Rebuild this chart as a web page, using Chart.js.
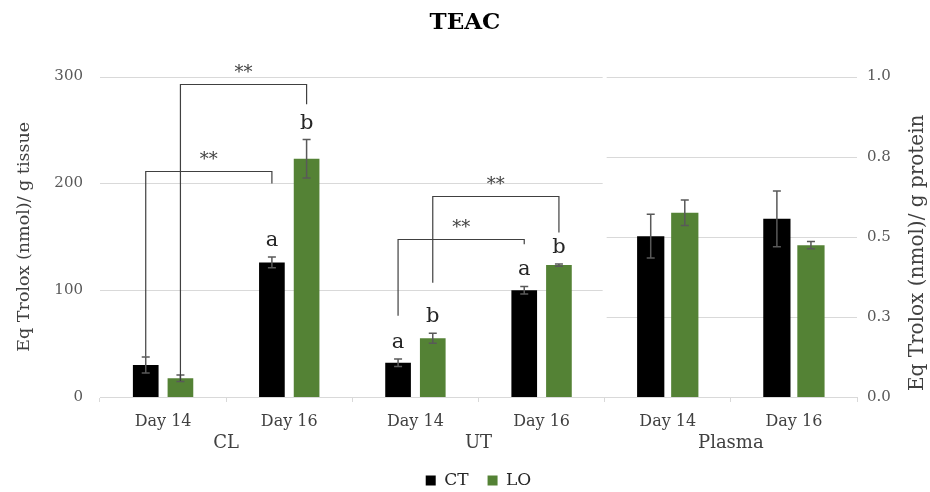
<!DOCTYPE html>
<html><head><meta charset="utf-8">
<script src="https://cdn.jsdelivr.net/npm/chart.js@4.4.1/dist/chart.umd.min.js"></script>
<style>html,body{margin:0;padding:0;background:#fff}#wrap{width:930px;height:492px}</style>
</head><body><div id="wrap"><canvas id="c" width="930" height="492"></canvas></div>
<script>
// ---- data ----
const categories = ['Day 14', 'Day 16', 'Day 14', 'Day 16', 'Day 14', 'Day 16'];
const groups = ['CL', 'UT', 'Plasma'];
const groupFirst = [0, 2, 4];
const groupLast = [1, 3, 5];
const seriesNames = ['CT', 'LO'];
const tissueCT = [30, 126, 32, 100, null, null];
const tissueCTErr = [7.5, 5, 3.5, 3.5, null, null];
const tissueLO = [17.5, 223, 55, 123.5, null, null];
const tissueLOErr = [3, 18, 4.7, 1, null, null];
const plasmaCT = [null, null, null, null, 0.502, 0.556];
const plasmaCTErr = [null, null, null, null, 0.068, 0.087];
const plasmaLO = [null, null, null, null, 0.575, 0.474];
const plasmaLOErr = [null, null, null, null, 0.04, 0.011];
const ctLetters = ['', 'a', 'a', 'a', '', ''];
const loLetters = ['', 'b', 'b', 'b', '', ''];
const bracketSeries = [0, 1, 0, 1];
const bracketFrom = [0, 0, 2, 2];
const bracketTo = [1, 1, 3, 3];
const bracketStart = [38, 15, 76, 107];
const bracketPeak = [212, 293, 148, 188];
const bracketEnd = [200, 274, 143, 154];
const bracketMarks = ['**', '**', '**', '**'];
const leftTitle = 'Eq Trolox (nmol)/ g tissue';
const rightTitle = 'Eq Trolox (nmol)/ g protein';
const leftTicksMax = 300, rightTicksMax = 1.0;

const SERIF = "'DejaVu Serif', serif";
const CT_COLOR = '#000000', LO_COLOR = '#548235';

const errs = [tissueCTErr, tissueLOErr, plasmaCTErr, plasmaLOErr];
const letters = [ctLetters, loLetters];

const extras = {
  id: 'extras',
  beforeDatasetsDraw(chart) {
    const {ctx, scales: {x, y, y2}} = chart;
    const split = (x.getPixelForValue(3) + x.getPixelForValue(4)) / 2;
    ctx.save();
    ctx.strokeStyle = '#d9d9d9';
    ctx.lineWidth = 1;
    y.ticks.forEach(t => {
      if (t.value === 0) return;
      const py = Math.round(y.getPixelForValue(t.value)) + 0.5;
      ctx.beginPath(); ctx.moveTo(x.left, py); ctx.lineTo(split - 2, py); ctx.stroke();
    });
    y2.ticks.forEach(t => {
      if (t.value === 0) return;
      const py = Math.round(y2.getPixelForValue(t.value)) + 0.5;
      ctx.beginPath(); ctx.moveTo(split + 2, py); ctx.lineTo(x.right, py); ctx.stroke();
    });
    ctx.restore();
  },
  afterDatasetsDraw(chart) {
    const {ctx, scales: {x, y}} = chart;
    ctx.save();
    // error bars
    ctx.strokeStyle = '#595959';
    ctx.lineWidth = 1.5;
    chart.data.datasets.forEach((ds, i) => {
      const meta = chart.getDatasetMeta(i);
      const sc = chart.scales[ds.yAxisID];
      ds.data.forEach((v, j) => {
        if (v == null) return;
        const e = errs[i][j];
        const el = meta.data[j];
        const top = sc.getPixelForValue(v + e), bot = sc.getPixelForValue(v - e);
        ctx.beginPath();
        ctx.moveTo(el.x, top); ctx.lineTo(el.x, bot);
        ctx.moveTo(el.x - 4, top); ctx.lineTo(el.x + 4, top);
        ctx.moveTo(el.x - 4, bot); ctx.lineTo(el.x + 4, bot);
        ctx.stroke();
      });
    });
    // letters
    ctx.fillStyle = '#262626';
    ctx.font = '21px ' + SERIF;
    ctx.textAlign = 'center';
    ctx.textBaseline = 'alphabetic';
    letters.forEach((arr, i) => {
      const ds = chart.data.datasets[i];
      const meta = chart.getDatasetMeta(i);
      arr.forEach((L, j) => {
        if (!L) return;
        const top = y.getPixelForValue(ds.data[j] + errs[i][j]);
        ctx.fillText(L, meta.data[j].x, top - 11);
      });
    });
    // brackets
    ctx.strokeStyle = '#404040';
    ctx.lineWidth = 1.2;
    ctx.fillStyle = '#404040';
    ctx.font = '18px ' + SERIF;
    bracketSeries.forEach((s, k) => {
      const meta = chart.getDatasetMeta(s);
      const x1 = meta.data[bracketFrom[k]].x, x2 = meta.data[bracketTo[k]].x;
      const ys = y.getPixelForValue(bracketStart[k]);
      const yp = Math.round(y.getPixelForValue(bracketPeak[k])) + 0.5;
      const ye = y.getPixelForValue(bracketEnd[k]);
      ctx.beginPath();
      ctx.moveTo(x1, ys); ctx.lineTo(x1, yp); ctx.lineTo(x2, yp); ctx.lineTo(x2, ye);
      ctx.stroke();
      ctx.fillText(bracketMarks[k], (x1 + x2) / 2, yp - 7);
    });
    ctx.restore();
  },
  afterDraw(chart) {
    const {ctx, scales: {x}, chartArea} = chart;
    ctx.save();
    ctx.fillStyle = '#404040';
    ctx.font = '18px ' + SERIF;
    ctx.textAlign = 'center';
    ctx.textBaseline = 'middle';
    groups.forEach((g, k) => {
      const cx = (x.getPixelForValue(groupFirst[k]) + x.getPixelForValue(groupLast[k])) / 2;
      ctx.fillText(g, cx, x.top + 46);
    });
    // right axis title, reading bottom to top
    ctx.font = '20px ' + SERIF;
    ctx.translate(chart.width - 12, (chartArea.top + chartArea.bottom) / 2 + 16);
    ctx.rotate(-Math.PI / 2);
    ctx.fillText(rightTitle, 0, 0);
    ctx.restore();
  }
};

new Chart(document.getElementById('c'), {
  type: 'bar',
  data: {
    labels: categories,
    datasets: [
      {label: seriesNames[0], data: tissueCT, yAxisID: 'y', backgroundColor: CT_COLOR, skipNull: true,
       categoryPercentage: 0.55, barPercentage: 0.74},
      {label: seriesNames[1], data: tissueLO, yAxisID: 'y', backgroundColor: LO_COLOR, skipNull: true,
       categoryPercentage: 0.55, barPercentage: 0.74},
      {label: seriesNames[0] + ' plasma', data: plasmaCT, yAxisID: 'y2', backgroundColor: CT_COLOR, skipNull: true,
       categoryPercentage: 0.54, barPercentage: 0.8},
      {label: seriesNames[1] + ' plasma', data: plasmaLO, yAxisID: 'y2', backgroundColor: LO_COLOR, skipNull: true,
       categoryPercentage: 0.54, barPercentage: 0.8}
    ]
  },
  options: {
    responsive: false,
    animation: false,
    devicePixelRatio: 1,
    layout: {padding: {top: 0, left: 0, right: 0, bottom: -7}},
    plugins: {
      title: {display: true, text: 'TEAC', color: '#000', font: {family: SERIF, size: 23, weight: 'bold'},
              padding: {top: 9, bottom: 40}},
      legend: {
        position: 'bottom',
        fullSize: false,
        labels: {
          filter: (item) => item.datasetIndex < 2,
          boxWidth: 10, boxHeight: 10, padding: 19, color: '#262626',
          font: {family: SERIF, size: 17}
        }
      },
      tooltip: {enabled: false}
    },
    scales: {
      x: {
        grid: {display: true, drawOnChartArea: false, drawTicks: true, tickLength: 5, color: '#d9d9d9', offset: true},
        border: {display: true, color: '#d9d9d9'},
        ticks: {color: '#404040', font: {family: SERIF, size: 16}, padding: 10, maxRotation: 0},
        afterFit: (s) => { s.height = 56; }
      },
      y: {
        position: 'left', min: 0, max: leftTicksMax,
        grid: {display: false, drawTicks: false},
        border: {display: false},
        ticks: {stepSize: 100, color: '#595959', font: {family: SERIF, size: 15}, padding: 17},
        title: {display: true, text: leftTitle, color: '#404040',
                font: {family: SERIF, size: 17.5}, padding: {top: 14, bottom: 0}},
        afterFit: (s) => { s.width = 100; }
      },
      y2: {
        position: 'right', min: 0, max: rightTicksMax,
        grid: {display: false, drawTicks: false},
        border: {display: false},
        ticks: {stepSize: 0.25, color: '#595959', font: {family: SERIF, size: 15}, padding: 10,
                callback: (v) => Number(v).toFixed(1)},
        afterFit: (s) => { s.width = 73; }
      }
    }
  },
  plugins: [extras]
});
</script>
</body></html>
